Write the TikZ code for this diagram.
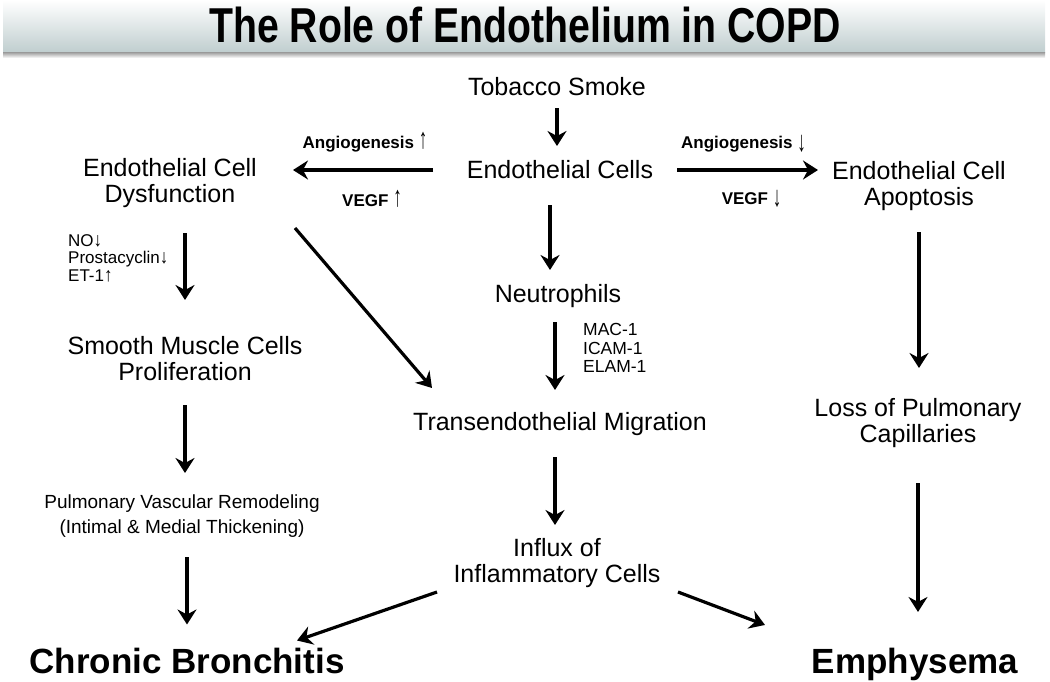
\documentclass[tikz,border=0pt]{standalone}
\usepackage{fontspec}
\setmainfont{Liberation Sans}
\usepackage{graphicx}
\usetikzlibrary{arrows.meta}
\definecolor{bannergrey}{RGB}{192,206,207}
\newcommand{\upar}{\scalebox{1}[1.7]{↑}}
\newcommand{\dnar}{\raisebox{-0.25ex}{\scalebox{1}[1.7]{↓}}}
\newcommand{\smup}{\scalebox{1}[1.15]{↑}}
\newcommand{\smdn}{\scalebox{1}[1.15]{↓}}

\begin{document}
\begin{tikzpicture}[x=1pt, y=-1pt,
    txt/.style={font=\fontsize{25}{26}\selectfont, align=center, inner sep=1pt},
    small/.style={font=\fontsize{17}{17.5}\selectfont, align=left, inner sep=0pt},
    lab/.style={font=\bfseries\fontsize{17}{18}\selectfont, inner sep=1pt},
    big/.style={font=\bfseries\fontsize{35}{40}\selectfont, inner sep=1pt, anchor=base},
    flow/.style={line width=3.2pt, -{Stealth[length=15pt, width=19pt, inset=5pt]}}]
    \useasboundingbox (0,0) rectangle (1050,681);
    %banner
    \shade[top color=white, bottom color=bannergrey] (3,0) rectangle (1045,52);
    \shade[top color=black!40, bottom color=white] (3,52) rectangle (1045,58);
    \node (title) [font=\bfseries\fontsize{49}{49}\selectfont] at (525,25) {\scalebox{0.8}[1]{The Role of Endothelium in COPD}};

    \node (smoke) [txt] at (557,87) {Tobacco Smoke};
    \node (endo) [txt] at (560,170) {Endothelial Cells};
    \node (dys) [txt] at (170,183) {Endothelial Cell\\Dysfunction};
    \node (apop) [txt] at (919,186) {Endothelial Cell\\Apoptosis};
    \node (smc) [txt] at (185,359) {Smooth Muscle Cells\\Proliferation};
    \node (remod) [txt, font=\fontsize{19}{25}\selectfont] at (182,516) {Pulmonary Vascular Remodeling\\(Intimal \& Medial Thickening)};
    \node (chronic) [big] at (187,673) {Chronic Bronchitis};
    \node (neut) [txt] at (558,296) {Neutrophils};
    \node (trans) [txt] at (560,424) {Transendothelial Migration};
    \node (influx) [txt] at (557,563) {Influx of\\Inflammatory Cells};
    \node (loss) [txt] at (918,423) {Loss of Pulmonary\\Capillaries};
    \node (emph) [big] at (915,673) {Emphysema};
    \node (nolab) [small, anchor=west] at (68,258) {NO\smdn\\Prostacyclin\smdn\\ET-1\smup};
    \node (maclab) [small, anchor=west, font=\fontsize{17.5}{18.5}\selectfont] at (583,348) {MAC-1\\ICAM-1\\ELAM-1};

    %center column
    \draw[flow, shorten <=21pt, shorten >=24pt] (smoke.center) -- (smoke.center |- endo.center);
    \draw[flow, shorten <=35pt, shorten >=26pt] ([xshift=-10pt]endo.center) -- ([xshift=-8pt]neut.center);
    \draw[flow, shorten <=26pt, shorten >=34pt] ([xshift=-3pt]neut.center) -- ([xshift=-5pt]trans.center);
    \draw[flow, shorten <=33pt, shorten >=38pt] ([xshift=-5pt]trans.center) -- ([xshift=-2pt]influx.center);
    \draw[flow, shorten <=127pt, shorten >=123pt] (endo.center) -- (endo.center -| dys.center)
        node[lab, midway, above=15pt] {Angiogenesis \upar}
        node[lab, midway, below=18pt, xshift=7pt] {VEGF \upar};
    \draw[flow, shorten <=117pt, shorten >=101pt] (endo.center) -- (endo.center -| apop.center)
        node[lab, midway, above=15pt, xshift=4pt] {Angiogenesis \dnar}
        node[lab, midway, below=18pt, xshift=12pt] {VEGF \dnar};
    %left column
    \draw[flow, shorten <=50pt, shorten >=59pt] (smc.center |- dys.center) -- (smc.center);
    \draw[flow, shorten <=46pt, shorten >=43pt] (smc.center) -- (smc.center |- remod.center);
    \draw[flow, shorten <=41pt, shorten >=23pt] (chronic.center |- remod.center) -- ([yshift=13pt]chronic.center);
    \draw[flow] ([xshift=125pt, yshift=-45pt]dys.center) -- ([xshift=-128pt, yshift=36pt]trans.center);
    %right column
    \draw[flow, shorten <=46pt, shorten >=55pt] (apop.center) -- (apop.center |- loss.center);
    \draw[flow, shorten <=60pt, shorten >=39pt] (loss.center) -- ([yshift=13pt]loss.center |- emph.center);
    %outcomes
    \draw[flow] ([xshift=-120pt, yshift=-29pt]influx.center) -- ([xshift=110pt, yshift=20pt]chronic.center);
    \draw[flow] ([xshift=121pt, yshift=-29pt]influx.center) -- ([xshift=-150pt, yshift=39pt]emph.center);
\end{tikzpicture}
\end{document}
